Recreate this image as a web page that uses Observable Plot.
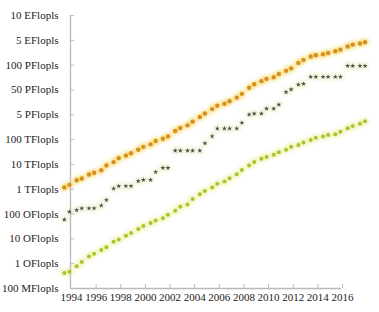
<!DOCTYPE html>
<html>
<head>
<meta charset="utf-8">
<script src="https://cdn.jsdelivr.net/npm/d3@7"></script>
<script src="https://cdn.jsdelivr.net/npm/@observablehq/plot@0.6"></script>
<style>
  html, body { margin: 0; padding: 0; background: #fff; }
  #chart svg { display: block; }
</style>
</head>
<body>
<div id="chart"></div>
<script>
// TOP500 lists (June / November), performance in GFlop/s
const lists = [
  "1993-06","1993-11","1994-06","1994-11","1995-06","1995-11","1996-06","1996-11",
  "1997-06","1997-11","1998-06","1998-11","1999-06","1999-11","2000-06","2000-11",
  "2001-06","2001-11","2002-06","2002-11","2003-06","2003-11","2004-06","2004-11",
  "2005-06","2005-11","2006-06","2006-11","2007-06","2007-11","2008-06","2008-11",
  "2009-06","2009-11","2010-06","2010-11","2011-06","2011-11","2012-06","2012-11",
  "2013-06","2013-11","2014-06","2014-11","2015-06","2015-11","2016-06","2016-11",
  "2017-06","2017-11"
];
const sumPerf = [
  1170, 1500, 2300, 2700, 3900, 4600, 5800, 9000,
  12400, 17900, 22600, 28300, 38800, 50900, 64300, 88100,
  108800, 134300, 222200, 293100, 374500, 528200, 813000, 1127000,
  1690000, 2300000, 2790000, 3530000, 4920000, 6970000, 12200000, 16950000,
  22600000, 27950000, 32400000, 43700000, 58900000, 74200000, 123000000, 162000000,
  223000000, 250000000, 274000000, 309000000, 361000000, 420000000, 566000000, 672000000,
  749000000, 845000000
];
const firstPerf = [
  59.7, 124, 143.4, 170, 170, 170, 220.4, 368.2,
  1068, 1338, 1338, 1338, 2121, 2379, 2379, 4938,
  7226, 7226, 35860, 35860, 35860, 35860, 35860, 70720,
  136800, 280600, 280600, 280600, 280600, 478200, 1026000, 1105000,
  1105000, 1759000, 1759000, 2566000, 8162000, 10510000, 16324750, 17590000,
  33862700, 33862700, 33862700, 33862700, 33862700, 33862700, 93014600, 93014600,
  93014600, 93014600
];
const lastPerf = [
  0.42, 0.47, 0.78, 1.17, 1.96, 2.5, 3.6, 4.6,
  7.7, 9.5, 13.4, 17.1, 24.7, 33.1, 43.8, 55.1,
  67.8, 94.3, 134.3, 195.8, 245.1, 403.4, 624, 850.6,
  1166, 1646, 2026, 2737, 4005, 5929, 9000, 12640,
  17100, 20050, 24670, 31120, 39100, 50900, 60800, 76500,
  96600, 117800, 133700, 153400, 164800, 206400, 285900, 349300,
  432200, 548300
];
const yTicks = [0.1, 1, 10, 100, 1e3, 1e4, 1e5, 1e6, 1e7, 1e8, 1e9, 1e10];
const yLabels = ["100 MFlopls","1 OFlopls","10 OFlopls","100 OFlopls","1 TFlopls","10 TFlopls",
  "100 TFlopls","5 PFlopls","50 PFlopls","100 PFlopls","5 EFlopls","10 EFlopls"];
const xTicks = [1994, 1996, 1998, 2000, 2002, 2004, 2006, 2008, 2010, 2012, 2014, 2016];

const toYear = s => +s.slice(0, 4) + (+s.slice(5, 7) - 1) / 12;
const rows = (vals) => lists.map((s, i) => ({t: toYear(s), v: vals[i]}));
const sumRows = rows(sumPerf), firstRows = rows(firstPerf), lastRows = rows(lastPerf);

const W = 379, H = 312, mL = 71, mR = 37, mT = 15, mB = 24;
const plotW = W - mL - mR, plotH = H - mT - mB;
const axisColor = "#b9b9b9";

const chart = Plot.plot({
  width: W, height: H,
  marginLeft: mL, marginRight: mR, marginTop: mT, marginBottom: mB,
  style: {fontFamily: "'Liberation Serif', 'DejaVu Serif', serif", fontSize: "11px", color: "#222", background: "#fff"},
  x: {domain: [1994, 2016], axis: null},
  y: {type: "log", domain: [0.1, 1e10], axis: null},
  marks: [
    // halos
    Plot.dot(sumRows, {x: "t", y: "v", r: 4.3, fill: "#f3cc3c", fillOpacity: 0.45, stroke: "none"}),
    Plot.dot(firstRows, {x: "t", y: "v", r: 4.3, fill: "#efecc6", fillOpacity: 0.5, stroke: "none"}),
    Plot.dot(lastRows, {x: "t", y: "v", r: 4.3, fill: "#e6ef96", fillOpacity: 0.5, stroke: "none"}),
    // axes
    Plot.ruleX([1994], {stroke: axisColor, strokeWidth: 1.3, dx: -1}),
    Plot.ruleY([0.1], {stroke: axisColor, strokeWidth: 1.3, x1: 1994, x2: 2016, dx: -1}),
    Plot.ruleY(yTicks.slice(1), {stroke: axisColor, strokeWidth: 1, insetRight: plotW - 3}),
    Plot.ruleX(xTicks.slice(1), {stroke: axisColor, strokeWidth: 1, insetTop: plotH - 4}),
    Plot.axisY({ticks: yTicks, tickFormat: d => yLabels[yTicks.indexOf(d)], tickSize: 0, tickPadding: 13, fontSize: 11, label: null}),
    Plot.axisX({ticks: xTicks, tickFormat: d => String(d), tickSize: 0, tickPadding: 5, fontSize: 11, label: null}),
    // cores
    Plot.dot(sumRows, {x: "t", y: "v", r: 2.2, fill: "#d8901e", stroke: "none"}),
    Plot.dot(firstRows, {x: "t", y: "v", r: 1.6, symbol: "star", fill: "#45564a", stroke: "none"}),
    Plot.dot(lastRows, {x: "t", y: "v", r: 2.0, fill: "#b2c02c", stroke: "none"})
  ]
});

// soft glow filters
const ns = "http://www.w3.org/2000/svg";
const defs = document.createElementNS(ns, "defs");
defs.innerHTML = `<filter id="glow" x="-50%" y="-50%" width="200%" height="200%"><feGaussianBlur stdDeviation="1.6"/></filter>
<filter id="soft" x="-50%" y="-50%" width="200%" height="200%"><feGaussianBlur stdDeviation="0.4"/></filter>`;
chart.insertBefore(defs, chart.firstChild);
const dotGroups = chart.querySelectorAll('g[aria-label="dot"]');
dotGroups.forEach((g, i) => g.setAttribute("filter", i < 3 ? "url(#glow)" : "url(#soft)"));

document.getElementById("chart").appendChild(chart);
</script>
</body>
</html>
